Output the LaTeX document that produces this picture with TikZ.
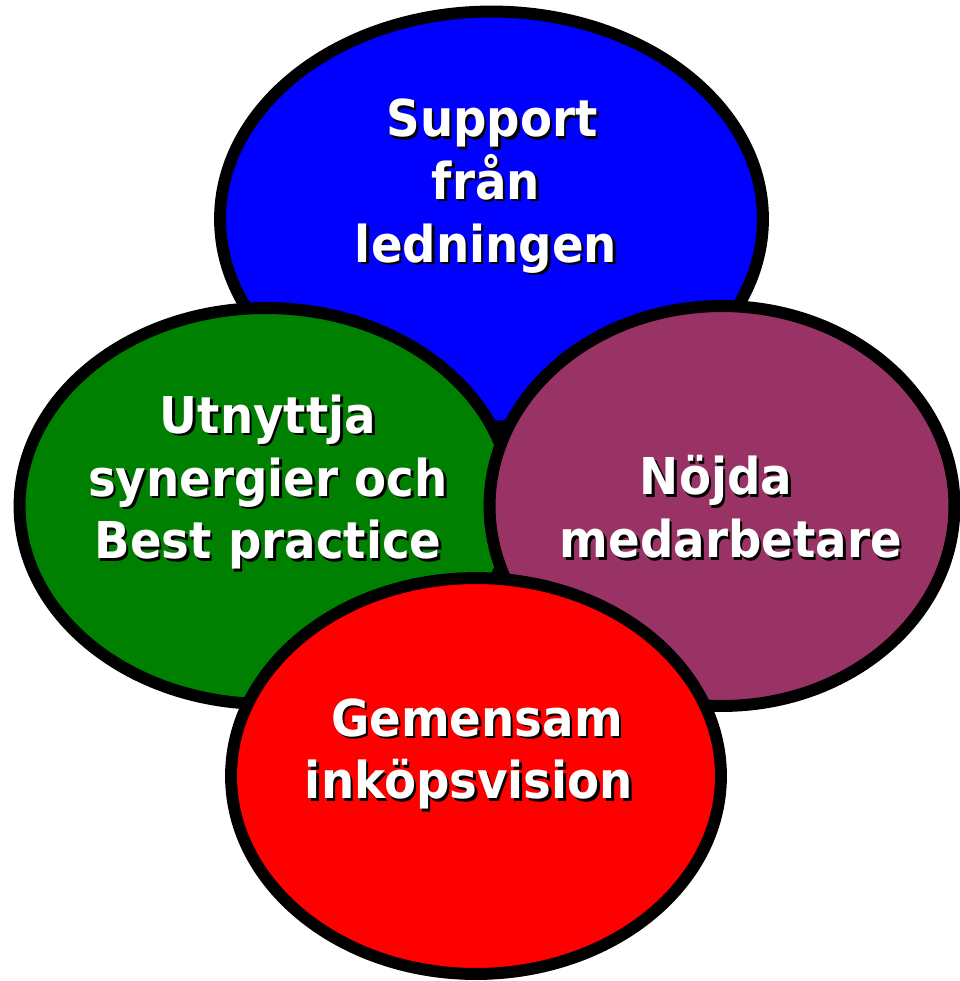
\documentclass[tikz,border=0pt]{standalone}
\usepackage{fontspec}
\setmainfont{DejaVu Sans}[FakeStretch=0.92]
\usetikzlibrary{shapes.geometric}

\definecolor{supportblue}{HTML}{0000FF}
\definecolor{synergygreen}{HTML}{008000}
\definecolor{staffpurple}{HTML}{993366}
\definecolor{visionred}{HTML}{FF0000}

% white label with a black drop shadow
\newcommand{\shadowlabel}[3]{%
  \node[lbl shadow] (#1-s) at (#2) {#3};
  \node[lbl] (#1) at (#2) {#3};}

\begin{document}
\begin{tikzpicture}[
    x = 0.02cm, y = -0.02cm, % one unit is one pixel of the sketch
    every node/.style = {inner sep = 0pt, outer sep = 0pt}
    ]

    \tikzset{bubble/.style={ellipse, draw = black, line width = 6.8pt}}
    \tikzset{lbl/.style={text = white, align = center,
        font = \bfseries\fontsize{28.9}{35.7}\selectfont}}
    \tikzset{lbl shadow/.style={lbl, text = black, xshift = 1.4pt, yshift = -1.4pt}}

    \useasboundingbox (0,0) rectangle (960,981);

    % the four bubbles, back to front
    \node[bubble, fill = supportblue, minimum width = 10.86cm, minimum height = 8.3cm] (support) at (491.5,219) {};
    \node[bubble, fill = synergygreen, minimum width = 9.86cm, minimum height = 7.92cm] (synergy) at (266,506) {};
    \node[bubble, fill = staffpurple, minimum width = 9.3cm, minimum height = 8cm] (staff) at (722,506) {};
    \node[bubble, fill = visionred, minimum width = 9.8cm, minimum height = 7.92cm] (vision) at (476,776) {};

    % labels
    \shadowlabel{support-lbl}{486,186}{\hspace*{7pt}Support\\från\\ledningen}
    \shadowlabel{synergy-lbl}{268,482}{Utnyttja\\synergier och\\Best practice}
    \shadowlabel{staff-lbl}{731,507}{Nöjda\hspace*{17pt}\\medarbetare}
    \shadowlabel{vision-lbl}{469,754}{\hspace*{9pt}Gemensam\\inköpsvision}
\end{tikzpicture}
\end{document}
